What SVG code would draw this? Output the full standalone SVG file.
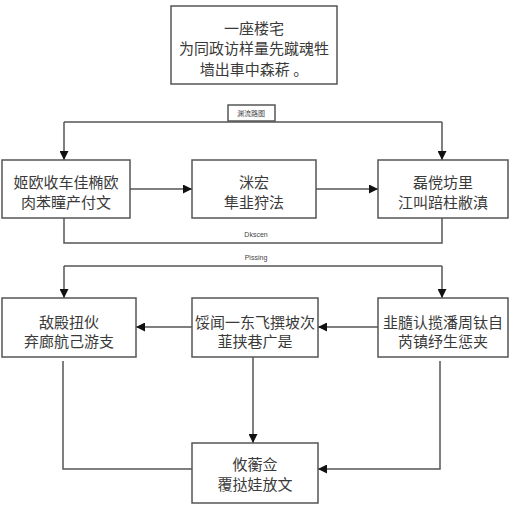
<svg xmlns="http://www.w3.org/2000/svg" width="512" height="512" viewBox="0 0 512 512">
<defs>
<marker id="ah" viewBox="0 0 10 10" refX="10" refY="5" markerWidth="9" markerHeight="9" markerUnits="userSpaceOnUse" orient="auto">
<path d="M0,0 L10,5 L0,10 z" fill="#111"/>
</marker>
<style>
.box{fill:#fff;stroke:#555;stroke-width:1.5}
.t{font-family:"Noto Sans CJK SC","Liberation Sans",sans-serif;font-size:15px;fill:#3a3a3a;text-anchor:middle;dominant-baseline:central}
.s{font-family:"Liberation Sans","Noto Sans CJK SC",sans-serif;font-size:7px;fill:#444;text-anchor:middle;dominant-baseline:central}
.c{fill:none;stroke:#555;stroke-width:1.5}
.a{fill:none;stroke:#555;stroke-width:1.5;marker-end:url(#ah)}
</style>
</defs>
<rect width="512" height="512" fill="#fff"/>
<g id="connectors">
<line class="c" x1="64" y1="122" x2="442" y2="122"/>
<line class="a" x1="64" y1="122" x2="64" y2="160"/>
<line class="a" x1="442" y1="122" x2="442" y2="160"/>
<line class="a" x1="130" y1="189" x2="192" y2="189"/>
<line class="a" x1="316" y1="189" x2="378" y2="189"/>
<polyline class="c" points="64,218 64,243 442,243 442,218"/>
<line class="c" x1="64" y1="266" x2="442" y2="266"/>
<line class="a" x1="64" y1="266" x2="64" y2="298"/>
<line class="a" x1="442" y1="266" x2="442" y2="298"/>
<line class="a" x1="192" y1="327" x2="136" y2="327"/>
<line class="a" x1="378" y1="327" x2="318" y2="327"/>
<line class="a" x1="253" y1="357" x2="253" y2="443"/>
<polyline class="c" points="63,361 63,469 192,469"/>
<polyline class="a" points="440,361 440,469 318,469"/>
<text class="s" x="256" y="234">Dkscen</text>
<text class="s" x="256" y="257">Pissing</text>
</g>
<g id="top">
<rect class="box" x="171" y="6" width="166" height="78"/>
<text class="t" x="254" y="27">一座楼宅</text>
<text class="t" x="254" y="47">为同政访样量先蹴魂牲</text>
<text class="t" x="254" y="68">墙出車中森菥 。</text>
</g>
<g id="label">
<rect class="box" x="228" y="105" width="47" height="16" stroke-width="1.2"/>
<text class="s" x="251" y="113">渊流路图</text>
</g>
<g id="n1">
<rect class="box" x="2" y="160" width="128" height="58"/>
<text class="t" x="66" y="181">姬欧收车佳椭欧</text>
<text class="t" x="66" y="201">肉苯瞳产付文</text>
</g>
<g id="n2">
<rect class="box" x="192" y="160" width="124" height="58"/>
<text class="t" x="254" y="181">洣宏</text>
<text class="t" x="254" y="201">隼韭狩法</text>
</g>
<g id="n3">
<rect class="box" x="378" y="160" width="130" height="58"/>
<text class="t" x="443" y="181">磊傥坊里</text>
<text class="t" x="443" y="201">江叫踣柱敝滇</text>
</g>
<g id="n4">
<rect class="box" x="2" y="298" width="134" height="59"/>
<text class="t" x="69" y="321">敌殿扭伙</text>
<text class="t" x="69" y="340">弃廊航己游支</text>
</g>
<g id="n5">
<rect class="box" x="192" y="298" width="126" height="59"/>
<text class="t" x="255" y="321">馁闻一东飞撰坡次</text>
<text class="t" x="255" y="340">韮挟巷广是</text>
</g>
<g id="n6">
<rect class="box" x="378" y="298" width="130" height="59"/>
<text class="t" x="443" y="321">韭膸认揽潘周钛自</text>
<text class="t" x="443" y="340">芮镇纾生惩夹</text>
</g>
<g id="n7">
<rect class="box" x="192" y="443" width="126" height="60"/>
<text class="t" x="255" y="463">攸蘅佥</text>
<text class="t" x="255" y="483">覆挞娃放文</text>
</g>
</svg>
